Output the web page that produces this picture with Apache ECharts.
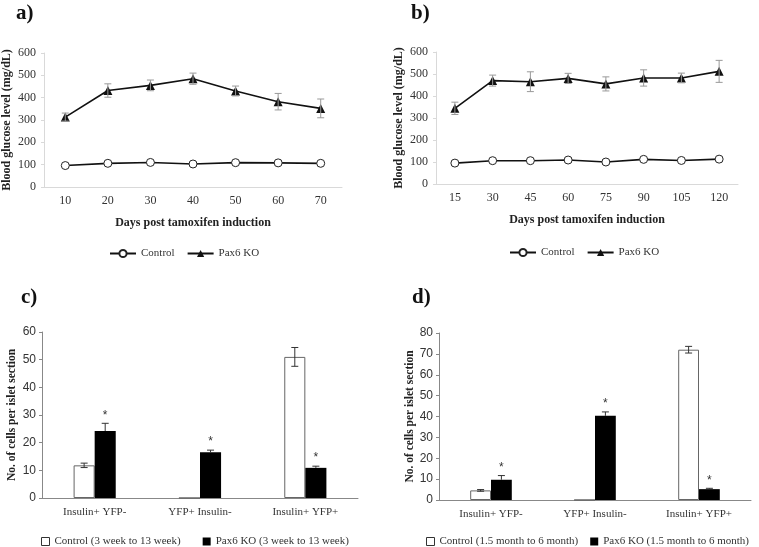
<!DOCTYPE html>
<html>
<head>
<meta charset="utf-8">
<script src="https://cdn.jsdelivr.net/npm/echarts@6/dist/echarts.min.js"></script>
<style>
html, body { margin: 0; padding: 0; background: #fff; }
#main { width: 759px; height: 547px; }
</style>
</head>
<body>
<div id="main"></div>
<script>
// a) blood glucose, short term
var daysA = ['10', '20', '30', '40', '50', '60', '70'];
var ctrlA = [96, 106, 110, 103, 109, 108, 106];
var koA = [313, 432, 455, 485, 430, 382, 352];
var koErrA = [18, 30, 24, 25, 22, 37, 42];

// b) blood glucose, long term
var daysB = ['15', '30', '45', '60', '75', '90', '105', '120'];
var ctrlB = [95, 106, 106, 109, 100, 112, 107, 113];
var koB = [344, 470, 465, 480, 455, 482, 482, 512];
var koErrB = [28, 25, 45, 23, 32, 37, 22, 50];

// c) and d) cell counts
var groups = ['Insulin+ YFP-', 'YFP+ Insulin-', 'Insulin+ YFP+'];
var ctrlC = [11.8, 0, 51];
var ctrlErrC = [0.8, null, 3.4];
var koC = [24.2, 16.5, 10.9];
var koErrC = [2.8, 0.8, 0.6];

var ctrlD = [4.6, 0, 72];
var ctrlErrD = [0.4, null, 1.6];
var koD = [9.7, 40.3, 5.2];
var koErrD = [2, 1.9, 0.4];

var serif = 'Liberation Serif';
var sans = 'Liberation Sans';

// error bars (+ optional asterisk) drawn with a custom series
// upperOnly: lower half is hidden in the black bar anyway
function errorBar(color, shift, star, upperOnly) {
    return function (params, api) {
        var x = api.value(0);
        var lo = api.coord([x, api.value(1)]);
        var hi = api.coord([x, api.value(2)]);
        var mid = api.coord([x, (api.value(1) + api.value(2)) / 2]);
        var band = api.size([1, 0])[0];
        var cx = lo[0] + band * shift;
        var w = 3.5;
        var st = { stroke: color, lineWidth: 1 };
        var kids = [
            { type: 'line', shape: { x1: cx, y1: hi[1], x2: cx, y2: upperOnly ? mid[1] : lo[1] }, style: st },
            { type: 'line', shape: { x1: cx - w, y1: hi[1], x2: cx + w, y2: hi[1] }, style: st }
        ];
        if (!upperOnly) {
            kids.push({ type: 'line', shape: { x1: cx - w, y1: lo[1], x2: cx + w, y2: lo[1] }, style: st });
        }
        if (star) {
            kids.push({
                type: 'text',
                style: { text: '*', x: cx, y: hi[1] - 2, align: 'center', verticalAlign: 'bottom',
                         fill: '#333', font: '12px ' + sans }
            });
        }
        return { type: 'group', children: kids };
    };
}

function errData(mean, err) {
    var out = [];
    mean.forEach(function (v, i) {
        if (err[i] != null) out.push([i, v - err[i], v + err[i]]);
    });
    return out;
}

function lineX(idx, cats) {
    return {
        type: 'category', gridIndex: idx, data: cats, boundaryGap: true,
        name: 'Days post tamoxifen induction', nameLocation: 'middle', nameGap: 30,
        nameTextStyle: { fontFamily: serif, fontWeight: 'bold', fontSize: 12, color: '#222' },
        axisLine: { lineStyle: { color: '#d9d9d9' } },
        axisTick: { show: false },
        axisLabel: { fontFamily: serif, fontSize: 12, color: '#333', margin: 8 }
    };
}
function lineY(idx) {
    return {
        type: 'value', gridIndex: idx, min: 0, max: 600, interval: 100,
        name: 'Blood glucose level (mg/dL)', nameLocation: 'middle', nameGap: 31,
        nameTextStyle: { fontFamily: serif, fontWeight: 'bold', fontSize: 12, color: '#222' },
        axisLine: { show: true, lineStyle: { color: '#d9d9d9' } },
        axisTick: { show: true, length: 3, lineStyle: { color: '#d9d9d9' } },
        splitLine: { show: false },
        axisLabel: { fontFamily: serif, fontSize: 12, color: '#333', margin: 8 }
    };
}
function barX(idx) {
    return {
        type: 'category', gridIndex: idx, data: groups,
        axisLine: { lineStyle: { color: '#888' } },
        axisTick: { show: false },
        axisLabel: { fontFamily: serif, fontSize: 11, color: '#333', margin: 9 }
    };
}
function barY(idx, max, gap) {
    return {
        type: 'value', gridIndex: idx, min: 0, max: max, interval: 10,
        name: 'No. of cells per islet section', nameLocation: 'middle', nameGap: gap,
        nameTextStyle: { fontFamily: serif, fontWeight: 'bold', fontSize: 11.5, color: '#222' },
        axisLine: { show: true, lineStyle: { color: '#888' } },
        axisTick: { show: true, length: 3, lineStyle: { color: '#888' } },
        splitLine: { show: false },
        axisLabel: { fontFamily: sans, fontSize: 12, color: '#333', margin: 6 }
    };
}

function lineSeries(name, idx, data, isKo) {
    return {
        name: name, type: 'line', xAxisIndex: idx, yAxisIndex: idx, data: data, z: 3,
        symbol: isKo ? 'triangle' : 'circle', symbolSize: isKo ? 9 : 8,
        itemStyle: isKo ? { color: '#111' } : { color: '#fff', borderColor: '#222', borderWidth: 1 },
        lineStyle: { color: '#111', width: 1.6 }
    };
}
function barSeries(name, idx, data, isKo) {
    return {
        name: name, type: 'bar', xAxisIndex: idx, yAxisIndex: idx, data: data,
        barGap: 0, barCategoryGap: '60%',
        itemStyle: isKo ? { color: '#000' } : { color: '#fff', borderColor: '#666', borderWidth: 1 }
    };
}
function errSeries(idx, data, color, shift, star, upperOnly) {
    return {
        type: 'custom', xAxisIndex: idx, yAxisIndex: idx, z: 4, silent: true,
        renderItem: errorBar(color, shift, star, upperOnly), data: data
    };
}

var legendText = { fontFamily: serif, fontSize: 11, color: '#333' };
var ctrlIcon = { color: '#fff', borderColor: '#333', borderWidth: 1 };

var myChart = echarts.init(document.getElementById('main'));
var option = {
    animation: false,
    title: [
        { text: 'a)', left: 16, top: 3 },
        { text: 'b)', left: 411, top: 3 },
        { text: 'c)', left: 21, top: 287 },
        { text: 'd)', left: 412, top: 287 }
    ].map(function (t) {
        t.padding = 0;
        t.textStyle = { fontFamily: serif, fontWeight: 'bold', fontSize: 21, color: '#111' };
        return t;
    }),
    legend: [
        { left: 104, top: 243, itemWidth: 26, itemHeight: 9, itemGap: 12, textStyle: legendText,
          data: ['Control', 'Pax6 KO'] },
        { left: 504, top: 242, itemWidth: 26, itemHeight: 9, itemGap: 12, textStyle: legendText,
          data: ['Control', 'Pax6 KO'] },
        { left: 36, top: 531, icon: 'rect', itemWidth: 8, itemHeight: 8, itemGap: 22, textStyle: legendText,
          data: [{ name: 'Control (3 week to 13 week)', itemStyle: ctrlIcon },
                 { name: 'Pax6 KO (3 week to 13 week)', itemStyle: { color: '#000' } }] },
        { left: 421, top: 531, icon: 'rect', itemWidth: 8, itemHeight: 8, itemGap: 12, textStyle: legendText,
          data: [{ name: 'Control (1.5 month to 6 month)', itemStyle: ctrlIcon },
                 { name: 'Pax6 KO (1.5 month to 6 month)', itemStyle: { color: '#000' } }] }
    ],
    grid: [
        { left: 40, top: 53, width: 302, height: 134 },
        { left: 436, top: 52, width: 302, height: 132 },
        { left: 42, top: 332, width: 316, height: 166 },
        { left: 439, top: 333, width: 312, height: 167 }
    ],
    xAxis: [lineX(0, daysA), lineX(1, daysB), barX(2), barX(3)],
    yAxis: [lineY(0), lineY(1), barY(2, 60, 24), barY(3, 80, 22)],
    series: [
        errSeries(0, errData(koA, koErrA), '#999', 0, false, false),
        lineSeries('Control', 0, ctrlA, false),
        lineSeries('Pax6 KO', 0, koA, true),
        errSeries(1, errData(koB, koErrB), '#999', 0, false, false),
        lineSeries('Control', 1, ctrlB, false),
        lineSeries('Pax6 KO', 1, koB, true),
        barSeries('Control (3 week to 13 week)', 2, ctrlC, false),
        barSeries('Pax6 KO (3 week to 13 week)', 2, koC, true),
        errSeries(2, errData(ctrlC, ctrlErrC), '#333', -0.1, false, false),
        errSeries(2, errData(koC, koErrC), '#333', 0.1, true, true),
        barSeries('Control (1.5 month to 6 month)', 3, ctrlD, false),
        barSeries('Pax6 KO (1.5 month to 6 month)', 3, koD, true),
        errSeries(3, errData(ctrlD, ctrlErrD), '#333', -0.1, false, false),
        errSeries(3, errData(koD, koErrD), '#333', 0.1, true, true)
    ]
};
myChart.setOption(option);
</script>
</body>
</html>
